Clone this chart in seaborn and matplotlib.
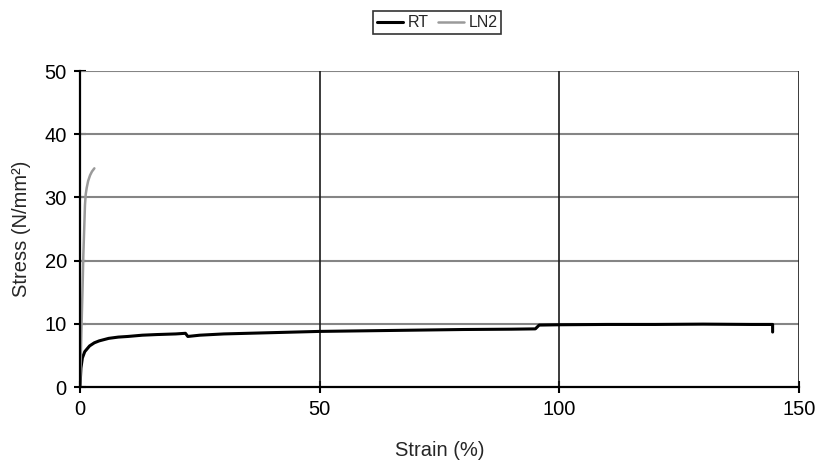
import matplotlib
matplotlib.use("Agg")
import matplotlib.pyplot as plt
import seaborn as sns
import pandas as pd
from matplotlib.lines import Line2D

# Data
rt_strain = [0, 0.2, 0.5, 1.0, 2, 3, 4, 6, 8, 10, 13, 16, 20, 22, 22.5, 25, 30, 40, 50,
             60, 70, 80, 90, 95, 95.8, 100, 110, 120, 130, 140, 143.5, 144.5, 144.5]
rt_stress = [0, 3.0, 4.6, 5.6, 6.5, 7.0, 7.3, 7.7, 7.9, 8.0, 8.2, 8.3, 8.4, 8.5, 8.0, 8.2,
             8.4, 8.6, 8.8, 8.9, 9.0, 9.1, 9.15, 9.2, 9.8, 9.85, 9.9, 9.9, 9.95, 9.9, 9.9, 9.9, 8.7]
ln2_strain = [0, 0.15, 0.35, 0.55, 0.7, 0.9, 1.04, 1.2, 1.4, 1.7, 2.1, 2.5, 3.0]
ln2_stress = [0, 4, 10.3, 16, 20.9, 25.5, 28.8, 30.5, 31.5, 32.6, 33.5, 34.1, 34.6]

x_ticks = [0, 50, 100, 150]
y_ticks = [0, 10, 20, 30, 40, 50]

sns.set_style("white")
plt.rcParams['font.family'] = ['Liberation Sans', 'DejaVu Sans']

df = pd.concat([
    pd.DataFrame({"Strain": rt_strain, "Stress": rt_stress, "Series": "RT"}),
    pd.DataFrame({"Strain": ln2_strain, "Stress": ln2_stress, "Series": "LN2"}),
], ignore_index=True)

fig = plt.figure(figsize=(8.22, 4.69), dpi=100)
ax = fig.add_axes([0.0973, 0.1748, 0.8747, 0.6738])

# gridlines
for yv in y_ticks[1:]:
    ax.axhline(yv, color="#858585", lw=1.5, zorder=1)
for xv in x_ticks[1:]:
    ax.axvline(xv, color="#1a1a1a", lw=1.2, zorder=1)

sns.lineplot(data=df, x="Strain", y="Stress", hue="Series",
             palette={"RT": "black", "LN2": "#9a9a9a"},
             estimator=None, sort=False, ax=ax, legend=False, zorder=3)
for ln in ax.get_lines()[-2:]:
    ln.set_linewidth(2.2 if ln.get_color() in ("black", "k") else 1.8)

ax.set_xlim(0, 150)
ax.set_ylim(0, 50)
ax.set_xticks(x_ticks)
ax.set_yticks(y_ticks)
ax.tick_params(axis="both", direction="inout", length=9, width=1.5,
               labelsize=14.5, colors="black", pad=5, bottom=True, left=True)
for s in ["top", "right"]:
    ax.spines[s].set_visible(False)
for s in ["left", "bottom"]:
    ax.spines[s].set_color("black")
    ax.spines[s].set_linewidth(1.6)
    ax.spines[s].set_zorder(4)

ax.set_xlabel("Strain (%)", fontsize=14.5, labelpad=16)
ax.set_ylabel("Stress (N/mm²)", fontsize=14.5, labelpad=10)

handles = [Line2D([], [], color="black", lw=2.2), Line2D([], [], color="#9a9a9a", lw=1.8)]
leg = fig.legend(handles, ["RT", "LN2"], loc="center", bbox_to_anchor=(0.532, 0.951),
                 ncol=2, frameon=True, fancybox=False, fontsize=11.5,
                 handlelength=1.6, handletextpad=0.3, columnspacing=0.6,
                 borderpad=0.25, borderaxespad=0)
leg.get_frame().set_edgecolor("black")
leg.get_frame().set_linewidth(1.2)

fig.savefig("out.png", dpi=100)
